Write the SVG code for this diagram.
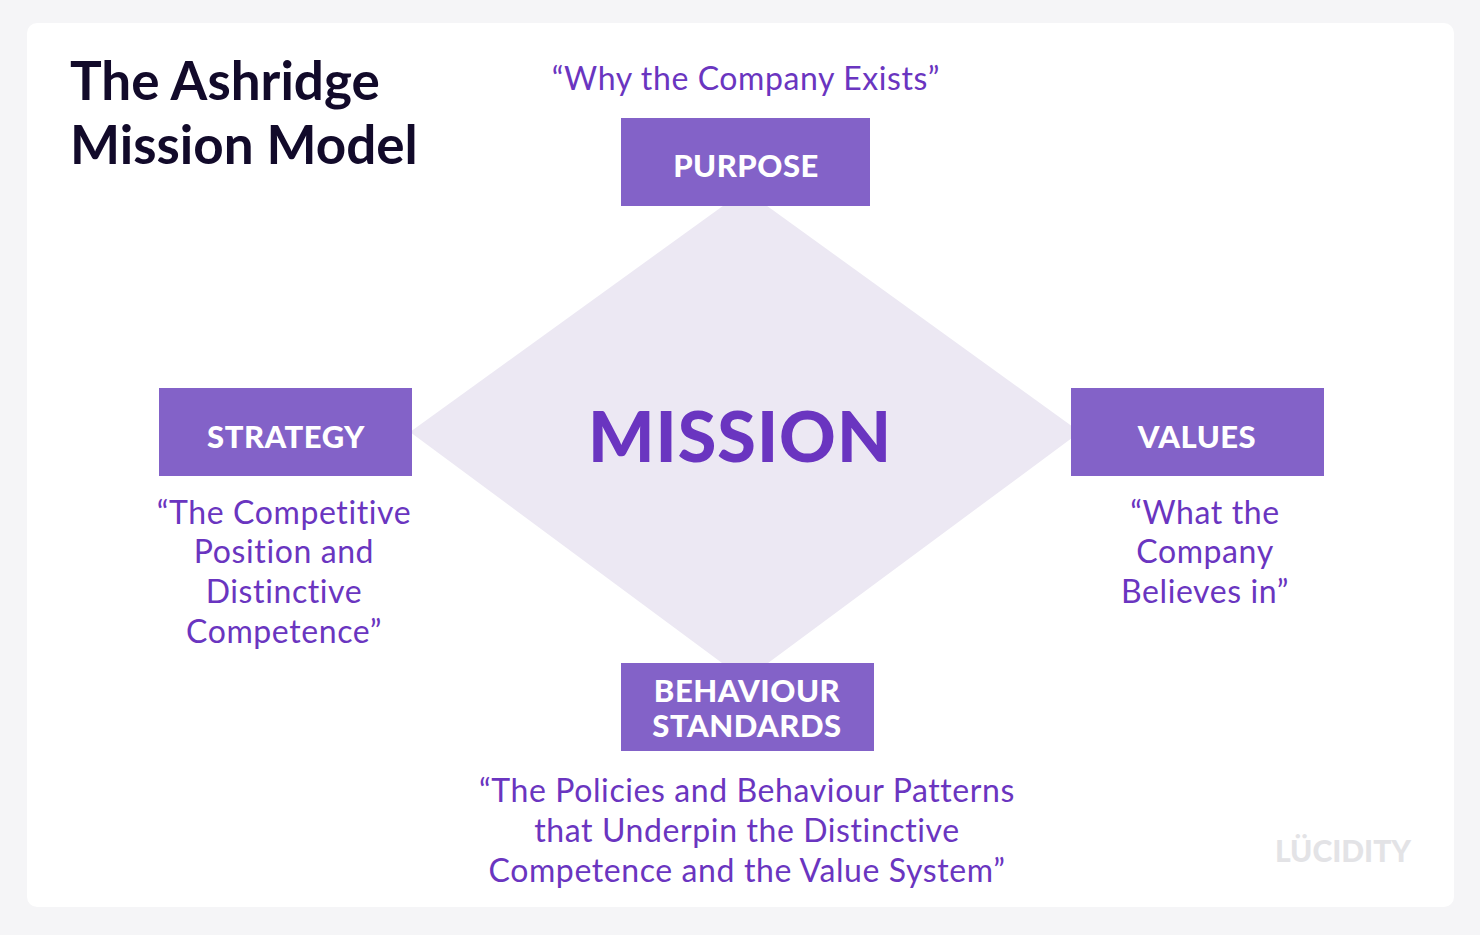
<svg xmlns="http://www.w3.org/2000/svg" width="1480" height="935" viewBox="0 0 1480 935">
<defs><style>
.box{fill:#8362c8}
.bt{font-family:Lato,"Liberation Sans",sans-serif;font-weight:900;font-size:31px;fill:#fff;text-anchor:middle;letter-spacing:0.5px}
.q{font-family:Lato,"Liberation Sans",sans-serif;font-size:32px;fill:#6a35c0;text-anchor:middle;letter-spacing:0.6px}
</style></defs>
<rect width="1480" height="935" fill="#f5f5f7"/>
<rect x="27" y="23" width="1427" height="884" rx="10" fill="#fff"/>
<text x="70" y="100" font-family="Lato,'Liberation Sans',sans-serif" font-weight="700" font-size="53" fill="#120a2a">The Ashridge</text>
<text x="70" y="164" font-family="Lato,'Liberation Sans',sans-serif" font-weight="700" font-size="53" fill="#120a2a">Mission Model</text>
<g id="connectors"><polygon points="745,190 1080,432 745,680 410,432" fill="#ece8f3"/></g>
<g id="mission"><text x="740" y="462" font-family="Lato,'Liberation Sans',sans-serif" font-weight="900" font-size="70" fill="#6a35c0" text-anchor="middle" letter-spacing="1">MISSION</text></g>
<g id="purpose"><rect class="box" x="621" y="118" width="249" height="88"/><text class="bt" x="746" y="177">PURPOSE</text>
<text class="q" x="746" y="90">“Why the Company Exists”</text></g>
<g id="strategy"><rect class="box" x="159" y="388" width="253" height="88"/><text class="bt" x="286" y="448">STRATEGY</text>
<text class="q" x="284" y="524">“The Competitive</text><text class="q" x="284" y="563">Position and</text><text class="q" x="284" y="603">Distinctive</text><text class="q" x="284" y="643">Competence”</text></g>
<g id="values"><rect class="box" x="1071" y="388" width="253" height="88"/><text class="bt" x="1197" y="448">VALUES</text>
<text class="q" x="1205" y="524">“What the</text><text class="q" x="1205" y="563">Company</text><text class="q" x="1205" y="603">Believes in”</text></g>
<g id="behaviour"><rect class="box" x="621" y="663" width="253" height="88"/><text class="bt" x="747" y="702" font-size="29">BEHAVIOUR</text><text class="bt" x="747" y="737" font-size="29">STANDARDS</text>
<text class="q" x="747" y="802">“The Policies and Behaviour Patterns</text><text class="q" x="747" y="842">that Underpin the Distinctive</text><text class="q" x="747" y="882">Competence and the Value System”</text></g>
<text x="1343" y="862" font-family="Lato,'Liberation Sans',sans-serif" font-weight="900" font-size="30" fill="#e3e3e6" text-anchor="middle">LÜCIDITY</text>
</svg>
